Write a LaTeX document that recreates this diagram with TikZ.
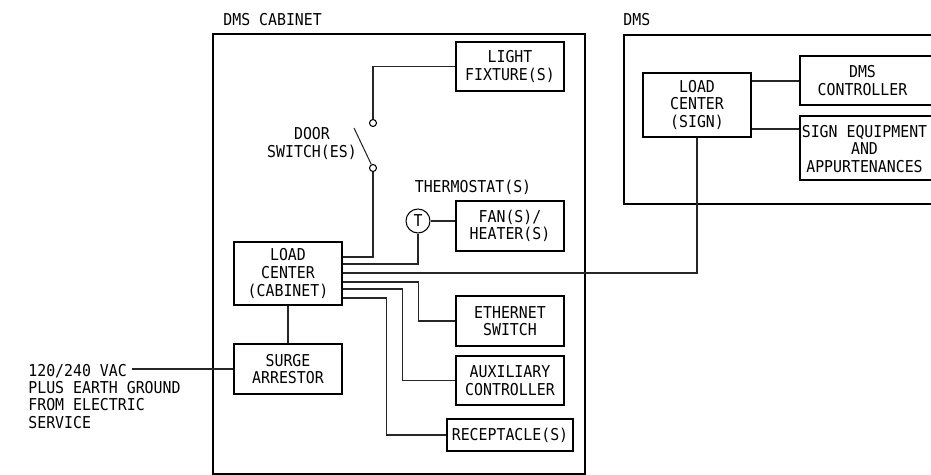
\documentclass[tikz,border=0pt]{standalone}
\usepackage{fontspec}
\setmainfont{DejaVu Sans Mono}[FakeStretch=0.91]
\tikzset{
  unitbox/.style={draw,line width=0.7pt,align=center,inner sep=0pt},
  wire/.style={line width=0.6pt,draw=black!85},
  frame/.style={draw,line width=1pt},
  contact/.style={circle,draw,line width=0.6pt,fill=white,inner sep=0pt,minimum size=0.14cm},
  caption/.style={inner sep=0pt,align=center}
}
\begin{document}
\begin{tikzpicture}[x=0.02cm,y=-0.02cm,font=\fontsize{9.3}{10}\selectfont]
			\useasboundingbox (0,0) rectangle (931,475);
			% enclosures
			\draw[frame] (213,34) rectangle (585,474);
			\draw[frame] (945,35) -| (624,204) -- (945,204);
			\node[caption,anchor=west] (cablabel) at (223,20) {DMS CABINET};
			\node[caption,anchor=west] (dmslabel) at (623,20) {DMS};
			% cabinet equipment
			\node[unitbox,minimum width=2.16cm,minimum height=0.98cm] (lightfix) at (510,66.5) {LIGHT\\FIXTURE(S)};
			\node[unitbox,minimum width=2.16cm,minimum height=1cm] (fan) at (510,226) {FAN(S)/\\HEATER(S)};
			\node[unitbox,minimum width=2.16cm,minimum height=1cm] (ethswitch) at (510,321) {ETHERNET\\SWITCH};
			\node[unitbox,minimum width=2.16cm,minimum height=0.98cm] (auxctrl) at (510,380.5) {AUXILIARY\\CONTROLLER};
			\node[unitbox,minimum width=2.52cm,minimum height=0.64cm] (recep) at (510,435) {RECEPTACLE(S)};
			\node[unitbox,minimum width=2.16cm,minimum height=1.26cm] (lccab) at (288,273.5) {LOAD\\CENTER\\(CABINET)};
			\node[unitbox,minimum width=2.16cm,minimum height=1cm] (surge) at (288,369) {SURGE\\ARRESTOR};
			% door switch and thermostat
			\node[contact] (swtop) at (373,123) {};
			\node[contact] (swbot) at (373,168) {};
			\coordinate (blade) at (354,128);
			\node[caption] (doorlabel) at (312,143.5) {DOOR\\SWITCH(ES)};
			\node[circle,draw,line width=0.6pt,inner sep=0pt,minimum size=0.48cm] (tstat) at (418,221) {T};
			\node[caption] (tstatlabel) at (473,187) {THERMOSTAT(S)};
			% sign equipment
			\node[unitbox,minimum width=2.16cm,minimum height=1.28cm] (lcsign) at (697,105) {LOAD\\CENTER\\(SIGN)};
			\node[unitbox,minimum width=2.9cm,minimum height=0.98cm,
			  label={[caption,xshift=-0.2cm]center:DMS\\CONTROLLER}] (dmsctrl) at (872.5,80.5) {};
			\node[unitbox,minimum width=2.9cm,minimum height=1.28cm,
			  label={[caption,xshift=-0.16cm,yshift=-0.02cm]center:{SIGN EQUIPMENT\\AND\\APPURTENANCES}}] (signeq) at (872.5,148) {};
			% service feed
			\node[caption,align=left,anchor=west,font=\fontsize{9.3}{9.7}\selectfont] (feedlabel) at (28,396.5)
			  {120/240 VAC\\PLUS EARTH GROUND\\FROM ELECTRIC\\SERVICE};
			\coordinate (feed) at (132,369);
			% wiring
			\draw[wire] (feed) -- (surge.west);
			\draw[wire] (lccab) -- (surge);
			\draw[wire] (swbot) -- (blade);
			\draw[wire] (swtop) |- (lightfix.west);
			\draw[wire] (lccab.east |- 0,257) -| (swbot);
			\draw[wire] (lccab.east |- 0,264) -| (tstat);
			\draw[wire] (tstat.east) -- (tstat.east -| fan.west);
			\draw[wire] (lccab.east |- 0,273) -| (lcsign);
			\draw[wire] (lccab.east |- 0,282) -- ++(76,0) |- (ethswitch.west);
			\draw[wire] (lccab.east |- 0,289) -- ++(60,0) |- (auxctrl.west);
			\draw[wire] (lccab.east |- 0,298) -- ++(44,0) |- (recep.west);
			\draw[wire] (lcsign.east |- 0,81) -- (dmsctrl.west |- 0,81);
			\draw[wire] (lcsign.east |- 0,129) -- (signeq.west |- 0,129);
\end{tikzpicture}
\end{document}
